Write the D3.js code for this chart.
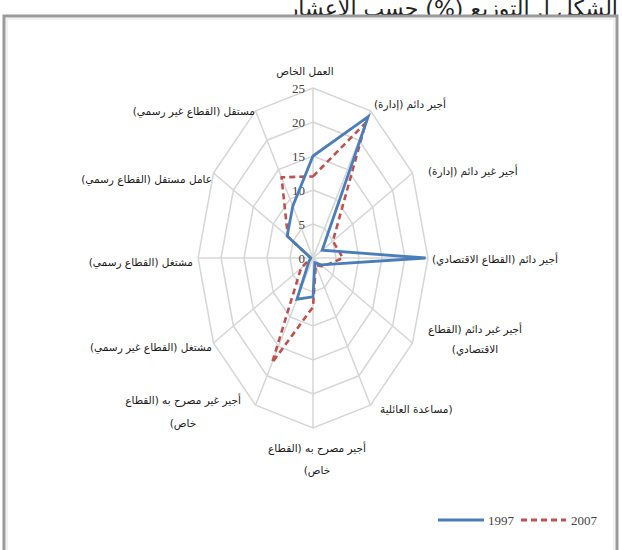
<!DOCTYPE html>
<html><head><meta charset="utf-8">
<script src="https://cdn.jsdelivr.net/npm/d3@7"></script>
<style>
html,body{margin:0;padding:0;background:#fff;overflow:hidden;}
svg{display:block;}
</style></head>
<body>
<svg id="chart" width="622" height="550"></svg>
<script>
const categories = [
  ["العمل الخاص"],
  ["أجير دائم (إدارة)"],
  ["أجير غير دائم (إدارة)"],
  ["أجير دائم (القطاع الاقتصادي)"],
  ["أجير غير دائم (القطاع", "الاقتصادي)"],
  ["(مساعدة العائلية"],
  ["أجير مصرح به (القطاع", "خاص)"],
  ["أجير غير مصرح به (القطاع", "خاص)"],
  ["مشتغل (القطاع غير رسمي)"],
  ["مشتغل (القطاع رسمي)"],
  ["عامل مستقل (القطاع رسمي)"],
  ["مستقل (القطاع غير رسمي)"]
];
const series1997 = [15, 24, 2.3, 24.5, 2, 0.8, 5.7, 7, 1, 0.5, 6.5, 8.8];
const series2007 = [12, 23, 5, 6.5, 2.5, 1.2, 7.2, 17.8, 3, 0.5, 6.3, 13.7];
const tickValues = [0, 5, 10, 15, 20, 25];
const seriesNames = ["1997", "2007"];
const titleText = "الشكل أ. التوزيع (%) حسب الأعشار";

const svg = d3.select("#chart");
const cx = 313, cy = 258, R = 170, kx = 0.676;
const r = d3.scaleLinear().domain([0, 25]).range([0, R]);
const angle = d3.scaleLinear().domain([0, categories.length]).range([0, 2 * Math.PI]);
const pt = (i, v) => [cx + kx * r(v) * Math.sin(angle(i)), cy - r(v) * Math.cos(angle(i))];

// title (cut at top)
svg.append("text").attr("x", 618).attr("y", 16).attr("text-anchor", "start")
  .attr("direction", "rtl").attr("font-family", "DejaVu Sans").attr("font-size", 22)
  .attr("fill", "#222").text(titleText);

// frame
svg.append("rect").attr("x", 4).attr("y", 16).attr("width", 613).attr("height", 560)
  .attr("fill", "#fff").attr("stroke", "#9a9a9a").attr("stroke-width", 3);
svg.append("rect").attr("x", 7).attr("y", 19).attr("width", 607).attr("height", 560)
  .attr("fill", "none").attr("stroke", "#e4e4e4").attr("stroke-width", 1);

const idx = d3.range(categories.length);
const ringLine = d3.line().curve(d3.curveLinearClosed);
const g = svg.append("g");
// rings
tickValues.filter(t => t > 0).forEach(t => {
  g.append("path").attr("d", ringLine(idx.map(i => pt(i, t))))
    .attr("fill", "none").attr("stroke", "#d6d6d6").attr("stroke-width", 1.5);
});
// spokes
idx.forEach(i => {
  const p = pt(i, 25);
  g.append("line").attr("x1", cx).attr("y1", cy).attr("x2", p[0]).attr("y2", p[1])
    .attr("stroke", "#d6d6d6").attr("stroke-width", 1.5);
});
// tick labels
tickValues.forEach(t => {
  g.append("text").attr("x", cx - 8).attr("y", cy - r(t) + 5).attr("text-anchor", "end")
    .attr("font-family", "Liberation Serif").attr("font-size", 13).attr("fill", "#444").text(t);
});

// series
const lineGen = d3.line().curve(d3.curveLinearClosed);
g.append("path").attr("d", lineGen(series2007.map((v, i) => pt(i, v))))
  .attr("fill", "none").attr("stroke", "#c0504d").attr("stroke-width", 2.6)
  .attr("stroke-dasharray", "6,4").attr("stroke-linejoin", "round");
g.append("path").attr("d", lineGen(series1997.map((v, i) => pt(i, v))))
  .attr("fill", "none").attr("stroke", "#4a7ebb").attr("stroke-width", 2.8)
  .attr("stroke-linejoin", "miter").attr("stroke-miterlimit", 4);

// category labels: [x, y of first line, side, line gap]
const labelPos = [
  [305, 75, "M", 0],
  [374, 108, "L", 0],
  [428, 175, "L", 0],
  [432, 263, "L", 0],
  [475, 333, "M", 20],
  [380, 413, "L", 0],
  [317, 452, "M", 22],
  [183, 404, "M", 23],
  [212, 351, "R", 0],
  [193, 266, "R", 0],
  [212, 183, "R", 0],
  [255, 115, "R", 0]
];
// in RTL text, "start" is the right edge and "end" the left edge
const anchorFor = { L: "end", R: "start", M: "middle" };
categories.forEach((lines, i) => {
  const [x, y, s, gap] = labelPos[i];
  const t = g.append("text").attr("font-family", "DejaVu Sans").attr("font-size", 10.5)
    .attr("fill", "#1a1a1a").attr("text-anchor", anchorFor[s]).attr("direction", "rtl");
  lines.forEach((str, k) => {
    t.append("tspan").attr("x", x).attr("y", y + k * gap).text(str);
  });
});

// legend
const lg = svg.append("g");
lg.append("line").attr("x1", 438).attr("x2", 484).attr("y1", 520).attr("y2", 520)
  .attr("stroke", "#4a7ebb").attr("stroke-width", 3);
lg.append("text").attr("x", 488).attr("y", 525).attr("font-family", "Liberation Serif")
  .attr("font-size", 13).attr("fill", "#444").text(seriesNames[0]);
lg.append("line").attr("x1", 521).attr("x2", 566).attr("y1", 520).attr("y2", 520)
  .attr("stroke", "#c0504d").attr("stroke-width", 3).attr("stroke-dasharray", "6,4");
lg.append("text").attr("x", 571).attr("y", 525).attr("font-family", "Liberation Serif")
  .attr("font-size", 13).attr("fill", "#444").text(seriesNames[1]);
</script>
</body></html>
